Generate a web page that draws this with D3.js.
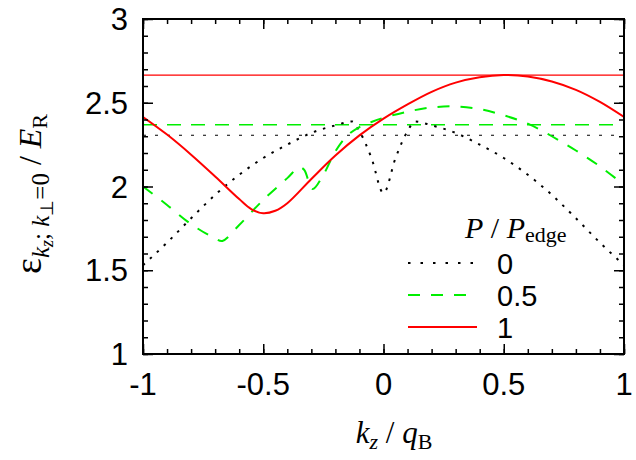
<!DOCTYPE html>
<html>
<head lang="en">
    <meta charset="UTF-8">
    <title>Band energy vs kz</title>
    <script src="https://cdn.jsdelivr.net/npm/d3@7/dist/d3.min.js" charset="utf-8"></script>
    <style>
        body { margin: 0; background: #fff; }
        text { fill: #000; }
    </style>
</head>
<body>
    <script>
        // data
        var xTicks = [-1, -0.5, 0, 0.5, 1];
        var xTickLabels = ["-1", "-0.5", "0", "0.5", "1"];
        var yTicks = [1, 1.5, 2, 2.5, 3];
        var yTickLabels = ["1", "1.5", "2", "2.5", "3"];

        var legendLabels = ["0", "0.5", "1"];
        var colors = ["#000000", "#00ee00", "#ff0000"];

        // P/Pedge = 0
        var kz0 = [-1, -0.9, -0.8, -0.7, -0.6, -0.5, -0.4, -0.3, -0.2, -0.13, -0.1, -0.05, 0,
                   0.05, 0.1, 0.13, 0.2, 0.3, 0.4, 0.5, 0.6, 0.7, 0.8, 0.9, 1];
        var e0 = [1.53, 1.665, 1.81, 1.95, 2.07, 2.17, 2.25, 2.32, 2.365, 2.388, 2.33, 2.17, 1.96,
                  2.17, 2.33, 2.388, 2.365, 2.32, 2.25, 2.17, 2.07, 1.95, 1.81, 1.665, 1.53];
        // P/Pedge = 0.5
        var kz05 = [-1, -0.9, -0.8, -0.7, -0.67, -0.6, -0.5, -0.4, -0.35, -0.33, -0.295, -0.25, -0.2,
                    -0.15, -0.1, -0.05, 0, 0.1, 0.2, 0.3, 0.4, 0.5, 0.6, 0.7, 0.8, 0.9, 1];
        var e05 = [2.00, 1.89, 1.775, 1.69, 1.675, 1.77, 1.92, 2.05, 2.115, 2.10, 1.985, 2.07, 2.21,
                   2.305, 2.355, 2.385, 2.41, 2.447, 2.472, 2.478, 2.462, 2.425, 2.375, 2.30, 2.215, 2.12, 2.01];
        // P/Pedge = 1
        var kz1 = [-1, -0.9, -0.8, -0.7, -0.6, -0.55, -0.5, -0.45, -0.4, -0.3, -0.2, -0.1, 0,
                   0.1, 0.2, 0.3, 0.4, 0.5, 0.6, 0.7, 0.8, 0.9, 1];
        var e1 = [2.415, 2.31, 2.19, 2.06, 1.925, 1.865, 1.84, 1.855, 1.9, 2.045, 2.185, 2.305, 2.405,
                  2.49, 2.565, 2.62, 2.652, 2.665, 2.657, 2.627, 2.577, 2.505, 2.415];

        // horizontal reference levels (0, 0.5, 1)
        var refLevels = [2.306, 2.369, 2.665];

        var w = 636, h = 460;
        var pLeft = 143, pRight = 624, pTop = 19, pBottom = 354;

        var svg = d3.select("body").append("svg")
                .attr("width", w)
                .attr("height", h);

        var x = d3.scaleLinear().domain([-1, 1]).range([pLeft, pRight]);
        var y = d3.scaleLinear().domain([1, 3]).range([pBottom, pTop]);

        var minorX = d3.range(-10, 11).map(function (i) { return i / 10; });
        var minorY = d3.range(10, 31).map(function (i) { return i / 10; });

        svg.append("defs").append("clipPath").attr("id", "plot")
                .append("rect")
                .attr("x", pLeft).attr("y", pTop)
                .attr("width", pRight - pLeft).attr("height", pBottom - pTop);

        var plot = svg.append("g").attr("clip-path", "url(#plot)");

        // reference lines
        var refStyles = [
            {dash: "3,9", width: 1.2},
            {dash: "14,10", width: 1.5},
            {dash: null, width: 1.2}
        ];
        plot.selectAll("line.ref")
                .data(refLevels)
                .enter()
                .append("line")
                .attr("class", "ref")
                .attr("x1", x(-1)).attr("x2", x(1))
                .attr("y1", function (d) { return y(d); })
                .attr("y2", function (d) { return y(d); })
                .attr("stroke", function (d, i) { return colors[i]; })
                .attr("stroke-width", function (d, i) { return refStyles[i].width; })
                .attr("stroke-dasharray", function (d, i) { return refStyles[i].dash; });

        var series = [
            {k: kz0, e: e0, dash: "2.5,7", curve: d3.curveMonotoneX},
            {k: kz05, e: e05, dash: "12,11", curve: d3.curveCatmullRom.alpha(0.5)},
            {k: kz1, e: e1, dash: null, curve: d3.curveCatmullRom.alpha(0.5)}
        ];

        plot.selectAll("path.curve")
                .data(series)
                .enter()
                .append("path")
                .attr("class", "curve")
                .attr("d", function (s) {
                    return d3.line()
                            .x(function (d) { return x(d[0]); })
                            .y(function (d) { return y(d[1]); })
                            .curve(s.curve)(d3.zip(s.k, s.e));
                })
                .attr("fill", "none")
                .attr("stroke", function (s, i) { return colors[i]; })
                .attr("stroke-width", 2)
                .attr("stroke-dasharray", function (s) { return s.dash; });

        // axes with inward ticks on all four sides
        function ticksOnly(g) {
            g.selectAll("text").remove();
            g.select(".domain").remove();
            g.selectAll("line").attr("stroke", "#000").attr("stroke-width", 1.5);
        }
        svg.append("g").attr("transform", "translate(0," + pBottom + ")")
                .call(d3.axisBottom(x).tickValues(minorX).tickSize(-5)).call(ticksOnly);
        svg.append("g").attr("transform", "translate(0," + pBottom + ")")
                .call(d3.axisBottom(x).tickValues(xTicks).tickSize(-10)).call(ticksOnly);
        svg.append("g").attr("transform", "translate(0," + pTop + ")")
                .call(d3.axisTop(x).tickValues(minorX).tickSize(-5)).call(ticksOnly);
        svg.append("g").attr("transform", "translate(0," + pTop + ")")
                .call(d3.axisTop(x).tickValues(xTicks).tickSize(-10)).call(ticksOnly);
        svg.append("g").attr("transform", "translate(" + pLeft + ",0)")
                .call(d3.axisLeft(y).tickValues(minorY).tickSize(-5)).call(ticksOnly);
        svg.append("g").attr("transform", "translate(" + pLeft + ",0)")
                .call(d3.axisLeft(y).tickValues(yTicks).tickSize(-10)).call(ticksOnly);
        svg.append("g").attr("transform", "translate(" + pRight + ",0)")
                .call(d3.axisRight(y).tickValues(minorY).tickSize(-5)).call(ticksOnly);
        svg.append("g").attr("transform", "translate(" + pRight + ",0)")
                .call(d3.axisRight(y).tickValues(yTicks).tickSize(-10)).call(ticksOnly);

        svg.append("rect")
                .attr("x", pLeft).attr("y", pTop)
                .attr("width", pRight - pLeft).attr("height", pBottom - pTop)
                .attr("fill", "none")
                .attr("stroke", "#000")
                .attr("stroke-width", 2);

        // tick labels
        svg.selectAll("text.xt")
                .data(xTicks)
                .enter()
                .append("text")
                .attr("class", "xt")
                .attr("x", function (d) { return x(d); })
                .attr("y", 395)
                .attr("text-anchor", "middle")
                .attr("font-family", "Liberation Sans, Arial, sans-serif")
                .attr("font-size", 31)
                .text(function (d, i) { return xTickLabels[i]; });

        svg.selectAll("text.yt")
                .data(yTicks)
                .enter()
                .append("text")
                .attr("class", "yt")
                .attr("x", 128)
                .attr("y", function (d) { return y(d) + 11; })
                .attr("text-anchor", "end")
                .attr("font-family", "Liberation Sans, Arial, sans-serif")
                .attr("font-size", 31)
                .text(function (d, i) { return yTickLabels[i]; });

        var serif = "Liberation Serif, Times New Roman, serif";

        // x axis title: k_z / q_B
        var xt = svg.append("text")
                .attr("x", 394).attr("y", 443)
                .attr("text-anchor", "middle")
                .attr("font-family", serif)
                .attr("font-size", 31);
        xt.append("tspan").attr("font-style", "italic").text("k");
        xt.append("tspan").attr("font-style", "italic").attr("font-size", 22).attr("dy", 6).text("z");
        xt.append("tspan").attr("dy", -6).text(" / ");
        xt.append("tspan").attr("font-style", "italic").text("q");
        xt.append("tspan").attr("font-size", 22).attr("dy", 6).text("B");

        // y axis title: eps_{kz; k_perp=0} / E_R
        var yt = svg.append("text")
                .attr("transform", "translate(41,194) rotate(-90)")
                .attr("text-anchor", "middle")
                .attr("font-family", serif)
                .attr("font-size", 32);
        yt.append("tspan").attr("font-size", 38).text("ε");
        yt.append("tspan").attr("font-style", "italic").attr("font-size", 25).attr("dy", 8).text("k");
        yt.append("tspan").attr("font-style", "italic").attr("font-size", 18).attr("dy", 4).text("z");
        yt.append("tspan").attr("font-size", 25).attr("dy", -4).text("; ");
        yt.append("tspan").attr("font-style", "italic").attr("font-size", 25).text("k");
        yt.append("tspan").attr("font-size", 18).attr("dy", 4).text("⊥");
        yt.append("tspan").attr("font-size", 25).attr("dy", -4).text("=0");
        yt.append("tspan").attr("dy", -8).text(" / ");
        yt.append("tspan").attr("font-style", "italic").text("E");
        yt.append("tspan").attr("font-size", 22).attr("dy", 6).text("R");

        // legend
        var lt = svg.append("text")
                .attr("x", 465).attr("y", 238)
                .attr("font-family", serif)
                .attr("font-size", 30);
        lt.append("tspan").attr("font-style", "italic").text("P");
        lt.append("tspan").text(" / ");
        lt.append("tspan").attr("font-style", "italic").text("P");
        lt.append("tspan").attr("font-size", 22).attr("dy", 4).text("edge");

        var legendY = [263, 295, 327];
        var leg = svg.selectAll("g.leg")
                .data(series)
                .enter()
                .append("g")
                .attr("class", "leg");
        leg.append("line")
                .attr("x1", 408).attr("x2", 477)
                .attr("y1", function (d, i) { return legendY[i]; })
                .attr("y2", function (d, i) { return legendY[i]; })
                .attr("stroke", function (d, i) { return colors[i]; })
                .attr("stroke-width", 2)
                .attr("stroke-dasharray", function (d, i) { return i === 0 ? "2.5,10" : d.dash; });
        leg.append("text")
                .attr("x", 497)
                .attr("y", function (d, i) { return legendY[i] + 11; })
                .attr("font-family", "Liberation Sans, Arial, sans-serif")
                .attr("font-size", 29)
                .text(function (d, i) { return legendLabels[i]; });
    </script>
</body>
</html>
